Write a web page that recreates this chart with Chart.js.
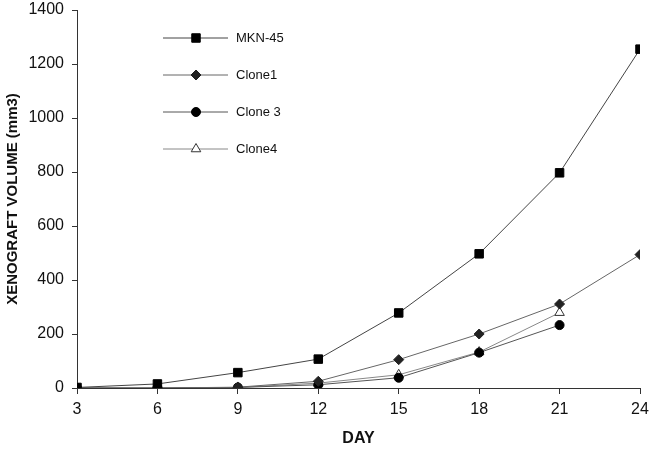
<!DOCTYPE html>
<html>
<head>
<meta charset="utf-8">
<style>
  html, body { margin: 0; padding: 0; background: #fff; }
  #wrap { width: 650px; height: 452px; position: relative; }
</style>
<script src="https://cdn.jsdelivr.net/npm/chart.js@4.4.0/dist/chart.umd.min.js"></script>
</head>
<body>
<div id="wrap"><canvas id="xenoChart" width="650" height="452"></canvas></div>
<script>
// Data
const days = [3, 6, 9, 12, 15, 18, 21, 24];
const mkn45 = [2, 15, 57, 107, 278, 497, 797, 1255];
const clone1 = [0, 0, 3, 25, 105, 200, 311, 494];
const clone3 = [0, 0, 2, 12, 38, 131, 233];
const clone4 = [0, 0, 2, 18, 49, 133, 279];
const yTicks = [0, 200, 400, 600, 800, 1000, 1200, 1400];

const FONT = "'Liberation Sans', Arial, sans-serif";

function toPoints(vals) {
    return vals.map((v, i) => ({ x: days[i], y: v }));
}

// Legend drawn inside the plot, top-left area
const insideLegend = {
    id: 'insideLegend',
    afterDraw(chart) {
        const ctx = chart.ctx;
        const rows = [38, 75, 112, 149];
        chart.data.datasets.forEach((ds, i) => {
            const y = rows[i];
            ctx.save();
            ctx.strokeStyle = ds.borderColor;
            ctx.lineWidth = 1;
            ctx.beginPath();
            ctx.moveTo(163, y);
            ctx.lineTo(228, y);
            ctx.stroke();
            drawMarker(ctx, ds.pointStyle, 196, y, ds.pointRadius, ds.pointBackgroundColor, ds.pointBorderColor);
            ctx.fillStyle = '#111';
            ctx.font = '13px ' + FONT;
            ctx.textBaseline = 'middle';
            ctx.fillText(ds.label, 236, y);
            ctx.restore();
        });
    }
};

function drawMarker(ctx, style, x, y, r, fill, stroke) {
    ctx.beginPath();
    if (style === 'rect') {
        const h = r * Math.SQRT1_2;
        ctx.rect(x - h, y - h, h * 2, h * 2);
    } else if (style === 'rectRot') {
        ctx.moveTo(x, y - r); ctx.lineTo(x + r, y); ctx.lineTo(x, y + r); ctx.lineTo(x - r, y); ctx.closePath();
    } else if (style === 'triangle') {
        ctx.moveTo(x, y - r); ctx.lineTo(x + r * 0.87, y + r * 0.5); ctx.lineTo(x - r * 0.87, y + r * 0.5); ctx.closePath();
    } else {
        ctx.arc(x, y, r, 0, Math.PI * 2);
    }
    ctx.fillStyle = fill;
    ctx.fill();
    ctx.strokeStyle = stroke;
    ctx.lineWidth = 1;
    ctx.stroke();
}

const ctx = document.getElementById('xenoChart').getContext('2d');
new Chart(ctx, {
    type: 'line',
    data: {
        datasets: [
            { label: 'MKN-45', data: toPoints(mkn45), borderColor: '#444', pointStyle: 'rect', pointRadius: 6,
              pointBackgroundColor: '#000', pointBorderColor: '#000' },
            { label: 'Clone1', data: toPoints(clone1), borderColor: '#666', pointStyle: 'rectRot', pointRadius: 5,
              pointBackgroundColor: '#222', pointBorderColor: '#222' },
            { label: 'Clone 3', data: toPoints(clone3), borderColor: '#555', pointStyle: 'circle', pointRadius: 4.5,
              pointBackgroundColor: '#000', pointBorderColor: '#000' },
            { label: 'Clone4', data: toPoints(clone4), borderColor: '#888', pointStyle: 'triangle', pointRadius: 5.5,
              pointBackgroundColor: '#fff', pointBorderColor: '#333' }
        ]
    },
    options: {
        responsive: false,
        animation: false,
        datasets: { line: { borderWidth: 1, tension: 0, fill: false, pointBorderWidth: 1 } },
        layout: { padding: { left: 0, right: 10, top: 10, bottom: 0 } },
        plugins: { legend: { display: false }, tooltip: { enabled: false } },
        scales: {
            x: {
                type: 'linear', min: 3, max: 24,
                afterBuildTicks: (s) => { s.ticks = days.map(v => ({ value: v })); },
                afterFit: (s) => { s.height = 64; s.paddingLeft = 0; s.paddingRight = 0; },
                grid: { drawOnChartArea: false, drawTicks: true, tickLength: 6, color: '#333' },
                border: { color: '#333', width: 1 },
                ticks: { color: '#111', font: { family: FONT, size: 16 }, padding: 6, maxRotation: 0,
                         callback: (v) => String(v) },
                title: { display: true, text: 'DAY', color: '#111', font: { family: FONT, size: 16, weight: 'bold' }, padding: { top: 6 } }
            },
            y: {
                min: 0, max: 1400,
                afterBuildTicks: (s) => { s.ticks = yTicks.map(v => ({ value: v })); },
                afterFit: (s) => { s.width = 77; s.paddingTop = 0; s.paddingBottom = 0; },
                grid: { drawOnChartArea: false, drawTicks: true, tickLength: 5, color: '#333' },
                border: { color: '#333', width: 1 },
                ticks: { color: '#111', font: { family: FONT, size: 16 }, padding: 8,
                         callback: (v) => String(v) },
                title: { display: true, text: 'XENOGRAFT VOLUME (mm3)', color: '#111', font: { family: FONT, size: 15, weight: 'bold' }, padding: { bottom: 2 } }
            }
        }
    },
    plugins: [insideLegend]
});
</script>
</body>
</html>
